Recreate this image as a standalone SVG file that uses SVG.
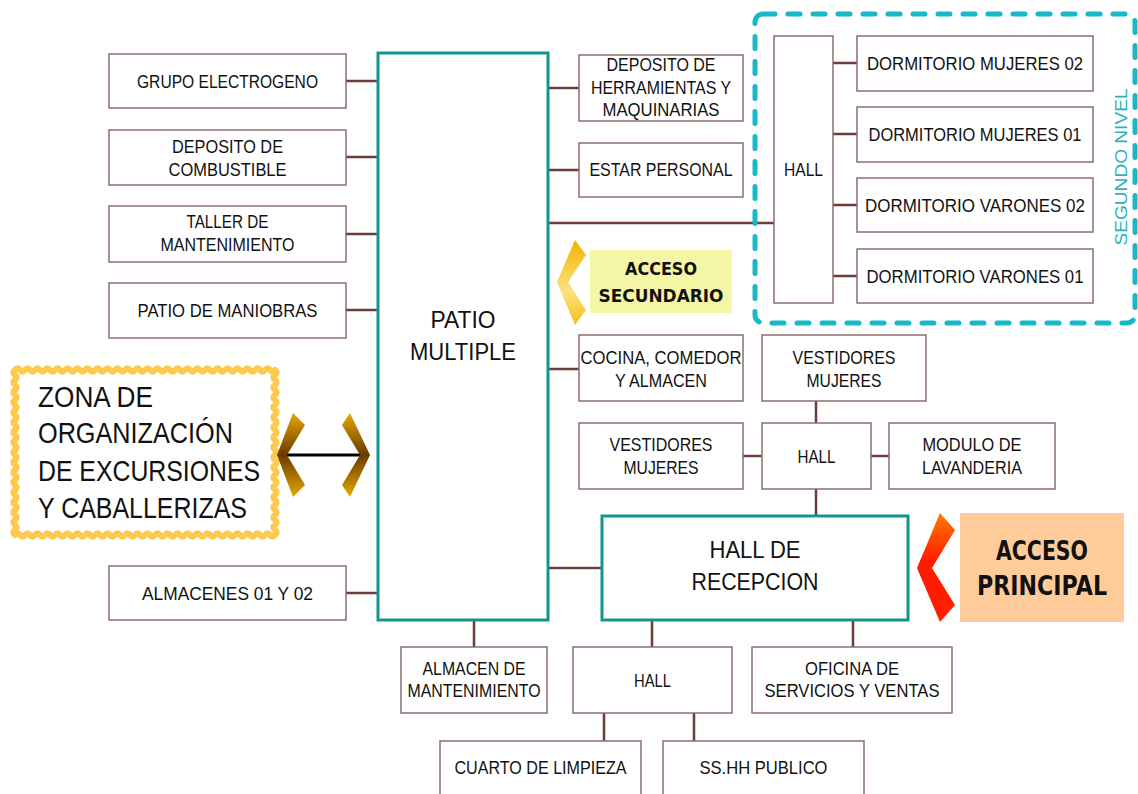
<svg xmlns="http://www.w3.org/2000/svg" width="1138" height="794" viewBox="0 0 1138 794">
<defs>
<style>
.box{fill:#fff;stroke:#8c6e6e;stroke-width:1.5}
.main{fill:#fff;stroke:#12958f;stroke-width:3}
.lbl{font-family:"Liberation Sans",Arial,sans-serif;font-size:18px;fill:#111;text-anchor:middle}
.big{font-size:24px}
.acc{font-family:"DejaVu Sans","Liberation Sans",sans-serif;font-weight:bold;fill:#111;text-anchor:middle}
.zone{font-family:"Liberation Sans",Arial,sans-serif;font-size:30px;fill:#111}
.con{stroke:#6e3b3b;stroke-width:2.5;fill:none}
</style>
<linearGradient id="gY" x1="0" y1="0" x2="0" y2="1">
<stop offset="0" stop-color="#f2b400"/><stop offset="0.6" stop-color="#fbe27c"/><stop offset="1" stop-color="#f2c020"/>
</linearGradient>
<linearGradient id="gR" x1="0" y1="0" x2="0" y2="1">
<stop offset="0" stop-color="#ff7a00"/><stop offset="0.45" stop-color="#ff1a00"/><stop offset="1" stop-color="#ff2000"/>
</linearGradient>
<linearGradient id="gB" x1="0" y1="0" x2="0" y2="1">
<stop offset="0" stop-color="#e6a800"/><stop offset="0.5" stop-color="#6b3a00"/><stop offset="1" stop-color="#e6a800"/>
</linearGradient>
</defs>
<rect width="1138" height="794" fill="#fff"/>

<g id="connectors">
<path class="con" d="M346,81H378M346,157H378M346,234H378M346,310H378M346,593H378"/>
<path class="con" d="M548,88H579M548,170H579M548,223H774M548,369H579M548,568H602"/>
<path class="con" d="M833,63H857M833,134H857M833,205H857M833,276H857"/>
<path class="con" d="M816,401V423M743,456H762M871,456H889M816,489V516"/>
<path class="con" d="M474,620V647M652,620V647M853,620V647M604,713V741M694,713V741"/>
<path d="M283,455H364" stroke="#000" stroke-width="3"/>
</g>

<g id="segundo-nivel">
<rect x="755" y="14" width="380" height="309" rx="8" fill="none" stroke="#16b9c8" stroke-width="5" stroke-dasharray="12 13" stroke-linecap="round"/>
<text transform="translate(1127,167) rotate(-90)" font-family="Liberation Sans,Arial,sans-serif" font-size="17" fill="#2ab3bd" text-anchor="middle" textLength="157" lengthAdjust="spacingAndGlyphs">SEGUNDO NIVEL</text>
</g>

<g id="n-grupo"><rect class="box" x="109" y="54" width="237" height="54"/><text class="lbl" x="227.5" y="88" textLength="181" lengthAdjust="spacingAndGlyphs">GRUPO ELECTROGENO</text></g>
<g id="n-combustible"><rect class="box" x="109" y="130" width="237" height="55"/><text class="lbl" x="227.5" y="153" textLength="111" lengthAdjust="spacingAndGlyphs">DEPOSITO DE</text><text class="lbl" x="227.5" y="176" textLength="118" lengthAdjust="spacingAndGlyphs">COMBUSTIBLE</text></g>
<g id="n-taller"><rect class="box" x="109" y="206" width="237" height="56"/><text class="lbl" x="227.5" y="228" textLength="82" lengthAdjust="spacingAndGlyphs">TALLER DE</text><text class="lbl" x="227.5" y="251" textLength="134" lengthAdjust="spacingAndGlyphs">MANTENIMIENTO</text></g>
<g id="n-maniobras"><rect class="box" x="109" y="283" width="237" height="55"/><text class="lbl" x="227.5" y="317" textLength="180" lengthAdjust="spacingAndGlyphs">PATIO DE MANIOBRAS</text></g>
<g id="n-almacenes"><rect class="box" x="109" y="566" width="237" height="54"/><text class="lbl" x="227.5" y="600" textLength="171" lengthAdjust="spacingAndGlyphs">ALMACENES 01 Y 02</text></g>

<g id="n-patio"><rect class="main" x="378" y="53" width="170" height="567"/><text class="lbl big" x="463" y="328" textLength="65" lengthAdjust="spacingAndGlyphs">PATIO</text><text class="lbl big" x="463" y="360" textLength="106" lengthAdjust="spacingAndGlyphs">MULTIPLE</text></g>

<g id="n-herramientas"><rect class="box" x="579" y="55" width="164" height="66"/><text class="lbl" x="661" y="71" textLength="109" lengthAdjust="spacingAndGlyphs">DEPOSITO DE</text><text class="lbl" x="661" y="93.5" textLength="140" lengthAdjust="spacingAndGlyphs">HERRAMIENTAS Y</text><text class="lbl" x="661" y="116" textLength="117" lengthAdjust="spacingAndGlyphs">MAQUINARIAS</text></g>
<g id="n-estar"><rect class="box" x="579" y="143" width="164" height="54"/><text class="lbl" x="661" y="176" textLength="143" lengthAdjust="spacingAndGlyphs">ESTAR PERSONAL</text></g>
<g id="n-cocina"><rect class="box" x="579" y="335" width="164" height="66"/><text class="lbl" x="661" y="364" textLength="161" lengthAdjust="spacingAndGlyphs">COCINA, COMEDOR</text><text class="lbl" x="661" y="387" textLength="92" lengthAdjust="spacingAndGlyphs">Y ALMACEN</text></g>
<g id="n-vest-top"><rect class="box" x="762" y="335" width="164" height="66"/><text class="lbl" x="844" y="364" textLength="103" lengthAdjust="spacingAndGlyphs">VESTIDORES</text><text class="lbl" x="844" y="387" textLength="75" lengthAdjust="spacingAndGlyphs">MUJERES</text></g>
<g id="n-vest-left"><rect class="box" x="579" y="423" width="164" height="66"/><text class="lbl" x="661" y="451" textLength="103" lengthAdjust="spacingAndGlyphs">VESTIDORES</text><text class="lbl" x="661" y="474" textLength="75" lengthAdjust="spacingAndGlyphs">MUJERES</text></g>
<g id="n-hall-mid"><rect class="box" x="762" y="423" width="109" height="66"/><text class="lbl" x="816.5" y="463" textLength="38" lengthAdjust="spacingAndGlyphs">HALL</text></g>
<g id="n-lavanderia"><rect class="box" x="889" y="423" width="166" height="66"/><text class="lbl" x="972" y="451" textLength="99" lengthAdjust="spacingAndGlyphs">MODULO DE</text><text class="lbl" x="972" y="474" textLength="100" lengthAdjust="spacingAndGlyphs">LAVANDERIA</text></g>
<g id="n-recepcion"><rect class="main" x="602" y="516" width="306" height="104"/><text class="lbl big" x="755" y="558" textLength="91" lengthAdjust="spacingAndGlyphs">HALL DE</text><text class="lbl big" x="755" y="590" textLength="127" lengthAdjust="spacingAndGlyphs">RECEPCION</text></g>

<g id="n-hall-up"><rect class="box" x="774" y="36" width="59" height="267"/><text class="lbl" x="803.5" y="176" textLength="39" lengthAdjust="spacingAndGlyphs">HALL</text></g>
<g id="n-dm02"><rect class="box" x="857" y="36" width="236" height="55"/><text class="lbl" x="975" y="70" textLength="216" lengthAdjust="spacingAndGlyphs">DORMITORIO MUJERES 02</text></g>
<g id="n-dm01"><rect class="box" x="857" y="107" width="236" height="55"/><text class="lbl" x="975" y="141" textLength="213" lengthAdjust="spacingAndGlyphs">DORMITORIO MUJERES 01</text></g>
<g id="n-dv02"><rect class="box" x="857" y="178" width="236" height="54"/><text class="lbl" x="975" y="212" textLength="220" lengthAdjust="spacingAndGlyphs">DORMITORIO VARONES 02</text></g>
<g id="n-dv01"><rect class="box" x="857" y="249" width="236" height="54"/><text class="lbl" x="975" y="283" textLength="217" lengthAdjust="spacingAndGlyphs">DORMITORIO VARONES 01</text></g>

<g id="n-almacen-mant"><rect class="box" x="401" y="647" width="146" height="66"/><text class="lbl" x="474" y="675" textLength="103" lengthAdjust="spacingAndGlyphs">ALMACEN DE</text><text class="lbl" x="474" y="697" textLength="133" lengthAdjust="spacingAndGlyphs">MANTENIMIENTO</text></g>
<g id="n-hall-bottom"><rect class="box" x="573" y="647" width="159" height="66"/><text class="lbl" x="652.5" y="687" textLength="37" lengthAdjust="spacingAndGlyphs">HALL</text></g>
<g id="n-oficina"><rect class="box" x="752" y="647" width="200" height="66"/><text class="lbl" x="852" y="675" textLength="94" lengthAdjust="spacingAndGlyphs">OFICINA DE</text><text class="lbl" x="852" y="697" textLength="175" lengthAdjust="spacingAndGlyphs">SERVICIOS Y VENTAS</text></g>
<g id="n-cuarto"><rect class="box" x="440" y="741" width="201" height="62"/><text class="lbl" x="540.5" y="774" textLength="172" lengthAdjust="spacingAndGlyphs">CUARTO DE LIMPIEZA</text></g>
<g id="n-sshh"><rect class="box" x="663" y="741" width="201" height="62"/><text class="lbl" x="763.5" y="774" textLength="128" lengthAdjust="spacingAndGlyphs">SS.HH PUBLICO</text></g>

<g id="acceso-secundario">
<polygon points="575,240 586,255 568,282 586,310 575,325 557,282" fill="url(#gY)"/>
<rect x="590" y="250" width="142" height="63" fill="#f4f6a6"/>
<text class="acc" x="661" y="275" font-size="18" textLength="72" lengthAdjust="spacingAndGlyphs">ACCESO</text>
<text class="acc" x="661" y="302" font-size="18" textLength="125" lengthAdjust="spacingAndGlyphs">SECUNDARIO</text>
</g>

<g id="acceso-principal">
<polygon points="940,513 955,530 932,568 955,605 940,622 917,568" fill="url(#gR)"/>
<rect x="960" y="513" width="164" height="109" fill="#ffcc99"/>
<text class="acc" x="1042" y="560" font-size="26" textLength="92" lengthAdjust="spacingAndGlyphs">ACCESO</text>
<text class="acc" x="1042" y="595" font-size="26" textLength="130" lengthAdjust="spacingAndGlyphs">PRINCIPAL</text>
</g>

<g id="zona">
<path fill="#fff" stroke="#ffc94d" stroke-width="6" stroke-linejoin="round" d="M15,370 q2.5,-3.5 5,0 t5,0 t5,0 t5,0 t5,0 t5,0 t5,0 t5,0 t5,0 t5,0 t5,0 t5,0 t5,0 t5,0 t5,0 t5,0 t5,0 t5,0 t5,0 t5,0 t5,0 t5,0 t5,0 t5,0 t5,0 t5,0 t5,0 t5,0 t5,0 t5,0 t5,0 t5,0 t5,0 t5,0 t5,0 t5,0 t5,0 t5,0 t5,0 t5,0 t5,0 t5,0 t5,0 t5,0 t5,0 t5,0 t5,0 t5,0 t5,0 t5,0 t5,0 t5,0 q3.5,2.5 0,5 t0,5 t0,5 t0,5 t0,5 t0,5 t0,5 t0,5 t0,5 t0,5 t0,5 t0,5 t0,5 t0,5 t0,5 t0,5 t0,5 t0,5 t0,5 t0,5 t0,5 t0,5 t0,5 t0,5 t0,5 t0,5 t0,5 t0,5 t0,5 t0,5 t0,5 t0,5 t0,5 q-2.5,3.5 -5,0 t-5,0 t-5,0 t-5,0 t-5,0 t-5,0 t-5,0 t-5,0 t-5,0 t-5,0 t-5,0 t-5,0 t-5,0 t-5,0 t-5,0 t-5,0 t-5,0 t-5,0 t-5,0 t-5,0 t-5,0 t-5,0 t-5,0 t-5,0 t-5,0 t-5,0 t-5,0 t-5,0 t-5,0 t-5,0 t-5,0 t-5,0 t-5,0 t-5,0 t-5,0 t-5,0 t-5,0 t-5,0 t-5,0 t-5,0 t-5,0 t-5,0 t-5,0 t-5,0 t-5,0 t-5,0 t-5,0 t-5,0 t-5,0 t-5,0 t-5,0 t-5,0 q-3.5,-2.5 0,-5 t0,-5 t0,-5 t0,-5 t0,-5 t0,-5 t0,-5 t0,-5 t0,-5 t0,-5 t0,-5 t0,-5 t0,-5 t0,-5 t0,-5 t0,-5 t0,-5 t0,-5 t0,-5 t0,-5 t0,-5 t0,-5 t0,-5 t0,-5 t0,-5 t0,-5 t0,-5 t0,-5 t0,-5 t0,-5 t0,-5 t0,-5 t0,-5 z"/>
<text class="zone" x="38" y="407" textLength="115" lengthAdjust="spacingAndGlyphs">ZONA DE</text>
<text class="zone" x="38" y="443" textLength="195" lengthAdjust="spacingAndGlyphs">ORGANIZACIÓN</text>
<text class="zone" x="38" y="481" textLength="222" lengthAdjust="spacingAndGlyphs">DE EXCURSIONES</text>
<text class="zone" x="38" y="518" textLength="209" lengthAdjust="spacingAndGlyphs">Y CABALLERIZAS</text>
</g>

<g id="doble-flecha">
<polygon points="293,413 305,425 287,455 305,485 293,497 277,455" fill="url(#gB)"/>
<polygon points="350,413 342,425 360,455 342,485 350,497 370,455" fill="url(#gB)"/>
</g>
</svg>
